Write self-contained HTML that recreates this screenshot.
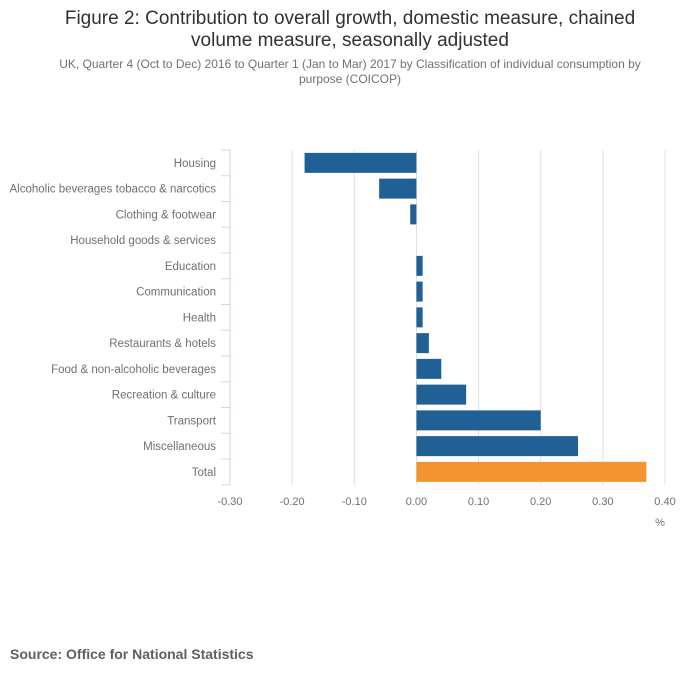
<!DOCTYPE html>
<html><head><meta charset="utf-8"><style>
body{margin:0;background:#fff;font-family:"Liberation Sans",sans-serif;}
#wrap{position:relative;width:700px;height:682px;overflow:hidden;}
.t{position:absolute;left:0;width:700px;text-align:center;color:#323132;}
</style></head><body>
<div id="wrap">
<div class="t" style="top:8px;font-size:19px;line-height:22px;">Figure 2: Contribution to overall growth, domestic measure, chained<br>volume measure, seasonally adjusted</div>
<div class="t" style="top:57px;font-size:12px;line-height:15px;color:#707071;">UK, Quarter 4 (Oct to Dec) 2016 to Quarter 1 (Jan to Mar) 2017 by Classification of individual consumption by<br>purpose (COICOP)</div>
<svg id="chart" width="700" height="682" style="position:absolute;left:0;top:0"></svg>
<div style="position:absolute;left:10px;top:646px;font-size:14px;font-weight:bold;color:#5f5f5f;">Source: Office for National Statistics</div>
</div>
<script>
const categories=["Housing","Alcoholic beverages tobacco & narcotics","Clothing & footwear","Household goods & services","Education","Communication","Health","Restaurants & hotels","Food & non-alcoholic beverages","Recreation & culture","Transport","Miscellaneous","Total"];
const values=[-0.18,-0.06,-0.01,0,0.01,0.01,0.01,0.02,0.04,0.08,0.20,0.26,0.37];
const ticks=[-0.3,-0.2,-0.1,0,0.1,0.2,0.3,0.4];
const tickLabels=["-0.30","-0.20","-0.10","0.00","0.10","0.20","0.30","0.40"];
const NS="http://www.w3.org/2000/svg";
const svg=document.getElementById('chart');
const x0=230,x1=665,plotTop=150,band=25.75;
const xs=v=>x0+(v-(-0.3))/0.7*(x1-x0);
const ys=i=>plotTop+i*band;
function mk(t,a){const e=document.createElementNS(NS,t);for(const k in a)e.setAttribute(k,a[k]);svg.appendChild(e);return e;}
ticks.forEach((v,i)=>{
  if(i>0){const g=mk('line',{x1:xs(v),x2:xs(v),y1:plotTop,y2:plotTop+categories.length*band,stroke:'#e0e0e0','stroke-width':1});
  
  }
  const t=mk('text',{x:xs(v),y:505,'text-anchor':'middle','font-size':11,fill:'#707071'});
  t.textContent=tickLabels[i];
  
  
});
const u=mk('text',{x:660,y:526,'text-anchor':'middle','font-size':11,fill:'#707071'});u.textContent='%';


const ax=mk('line',{x1:x0,x2:x0,y1:plotTop,y2:plotTop+categories.length*band,stroke:'#ccd6eb','stroke-width':1});


for(let i=0;i<=categories.length;i++){const tk=mk('line',{x1:x0-9,x2:x0,y1:ys(i),y2:ys(i),stroke:'#ccd6eb','stroke-width':1});

}
categories.forEach((c,i)=>{
  const cy=ys(i)+band/2;
  const t=mk('text',{x:216,y:cy+4,'text-anchor':'end','font-size':11.5,fill:'#707071'});
  t.textContent=c;
  
  
  const v=values[i];
  const a=xs(Math.min(0,v)),b=xs(Math.max(0,v));
  const r=mk('rect',{x:a,y:cy-10,width:b-a,height:20,fill:c==='Total'?'#f39431':'#206095'});
  
  
});
</script>
</body></html>
